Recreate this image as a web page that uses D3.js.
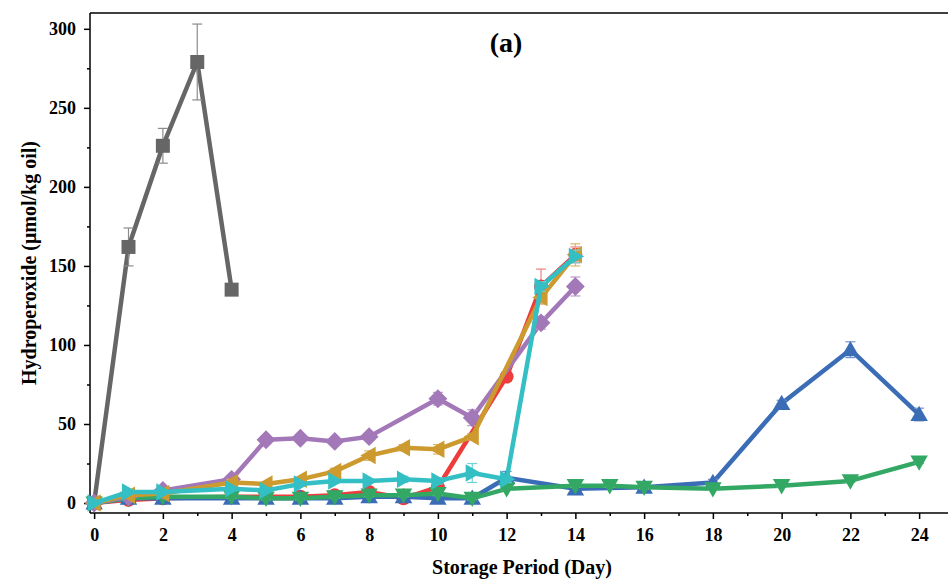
<!DOCTYPE html>
<html>
<head>
<meta charset="utf-8">
<script src="https://cdn.jsdelivr.net/npm/d3@7"></script>
<style>
  body { margin: 0; background: #fff; }
  svg text { font-family: "Liberation Serif", "Times New Roman", serif; font-weight: bold; }
</style>
</head>
<body>
<div id="chart"></div>
<script>
// day values per series, with standard deviation
var grayDays = [0, 1, 2, 3, 4];
var grayVals = [0, 162, 226, 279, 135];
var grayErr = [1, 12, 11, 24, 2];

var redDays = [0, 1, 2, 4, 5, 6, 7, 8, 9, 10, 12, 13, 14];
var redVals = [0, 2, 3, 4, 4, 4, 5, 7, 3, 10, 80, 137, 157];
var redErr = [1, 1, 1, 1, 1, 1, 1, 1, 1, 2, 3, 11, 5];

var blueDays = [0, 1, 2, 4, 5, 6, 7, 8, 9, 10, 11, 12, 14, 16, 18, 20, 22, 24];
var blueVals = [0, 3, 3, 3, 3, 3, 3, 4, 4, 3, 3, 16, 9, 10, 13, 63, 97, 56];
var blueErr = [1, 1, 1, 1, 1, 1, 1, 1, 1, 1, 1, 4, 2, 2, 2, 2, 5, 4];

var greenDays = [0, 1, 2, 4, 5, 6, 7, 8, 9, 10, 11, 12, 14, 15, 16, 18, 20, 22, 24];
var greenVals = [0, 3, 4, 4, 3, 3, 4, 5, 5, 6, 3, 9, 11, 11, 10, 9, 11, 14, 26];
var greenErr = [1, 1, 1, 1, 1, 1, 1, 1, 1, 1, 1, 1, 1, 1, 1, 1, 1, 1, 1];

var purpleDays = [0, 1, 2, 4, 5, 6, 7, 8, 10, 11, 13, 14];
var purpleVals = [0, 4, 8, 15, 40, 41, 39, 42, 66, 54, 114, 137];
var purpleErr = [1, 1, 1, 2, 2, 2, 2, 2, 4, 5, 4, 6];

var goldDays = [0, 1, 2, 4, 5, 6, 7, 8, 9, 10, 11, 13, 14];
var goldVals = [0, 5, 6, 13, 12, 15, 20, 30, 35, 34, 42, 130, 157];
var goldErr = [1, 1, 1, 2, 1, 1, 2, 3, 2, 3, 2, 4, 7];

var cyanDays = [0, 1, 2, 4, 5, 6, 7, 8, 9, 10, 11, 12, 13, 14];
var cyanVals = [0, 7, 7, 9, 8, 12, 14, 14, 15, 14, 19, 15, 137, 156];
var cyanErr = [1, 1, 1, 1, 1, 1, 1, 1, 2, 2, 6, 2, 3, 4];

var xTicks = [0, 2, 4, 6, 8, 10, 12, 14, 16, 18, 20, 22, 24];
var yTicks = [0, 50, 100, 150, 200, 250, 300];

var series = [
  {days: grayDays, vals: grayVals, err: grayErr, color: "#666666", errColor: "#8c8c8c", sym: "square"},
  {days: redDays, vals: redVals, err: redErr, color: "#ee3b3b", errColor: "#f08080", sym: "circle"},
  {days: blueDays, vals: blueVals, err: blueErr, color: "#3b6db7", errColor: "#6f93cc", sym: "up"},
  {days: greenDays, vals: greenVals, err: greenErr, color: "#33a865", errColor: "#6cc290", sym: "down"},
  {days: purpleDays, vals: purpleVals, err: purpleErr, color: "#a378b8", errColor: "#bd9bcc", sym: "diamond"},
  {days: goldDays, vals: goldVals, err: goldErr, color: "#cc9a2e", errColor: "#dbb569", sym: "left"},
  {days: cyanDays, vals: cyanVals, err: cyanErr, color: "#33bfc4", errColor: "#6fd2d5", sym: "right"}
];

var width = 948, height = 579;
var margin = {top: 13, right: 0, bottom: 66, left: 90};
var svg = d3.select("#chart").append("svg").attr("width", width).attr("height", height);

var x = d3.scaleLinear().domain([-0.12, 24.84]).range([margin.left, width - margin.right]);
var y = d3.scaleLinear().domain([-6.3, 310]).range([height - margin.bottom, margin.top]);

// frame
svg.append("line").attr("x1", margin.left).attr("x2", width).attr("y1", margin.top).attr("y2", margin.top)
  .attr("stroke", "#000").attr("stroke-width", 1.5);

// y axis
var yAxis = svg.append("g").attr("transform", "translate(" + margin.left + ",0)")
  .call(d3.axisLeft(y).tickValues(yTicks).tickSize(6).tickPadding(8).tickFormat(d3.format("d")));
yAxis.append("g").call(d3.axisLeft(y).tickValues([25, 75, 125, 175, 225, 275]).tickSize(3).tickFormat(""));
// x axis
var xAxis = svg.append("g").attr("transform", "translate(0," + (height - margin.bottom) + ")")
  .call(d3.axisBottom(x).tickValues(xTicks).tickSize(6).tickPadding(9).tickFormat(d3.format("d")));
xAxis.append("g").call(d3.axisBottom(x).tickValues(d3.range(1, 25, 2)).tickSize(3).tickFormat(""));

svg.selectAll(".domain").attr("stroke", "#000").attr("stroke-width", 1.5);
svg.selectAll(".tick line").attr("stroke", "#000").attr("stroke-width", 1.5);
svg.selectAll(".tick text").attr("font-size", 18).attr("fill", "#000");
// redraw domains full length
yAxis.select(".domain").attr("d", "M0," + margin.top + "V" + (height - margin.bottom));
xAxis.select(".domain").attr("d", "M" + margin.left + ",0H" + width);
yAxis.selectAll("g g .domain").remove();
xAxis.selectAll("g g .domain").remove();

// titles
svg.append("text").attr("x", 522).attr("y", 574).attr("text-anchor", "middle").attr("font-size", 20)
  .text("Storage Period (Day)");
svg.append("text").attr("transform", "translate(36,263) rotate(-90)").attr("text-anchor", "middle")
  .attr("font-size", 20).text("Hydroperoxide (μmol/kg oil)");
svg.append("text").attr("x", 506).attr("y", 52).attr("text-anchor", "middle").attr("font-size", 28)
  .text("(a)");

var line = d3.line().x(function (d) { return x(d.day); }).y(function (d) { return y(d.val); });

function symPath(sym, s) {
  if (sym === "square") return "M" + (-s) + "," + (-s) + "H" + s + "V" + s + "H" + (-s) + "Z";
  if (sym === "circle") return d3.symbol().type(d3.symbolCircle).size(Math.PI * s * s)();
  if (sym === "diamond") return "M0," + (-s * 1.35) + "L" + (s * 1.35) + ",0L0," + (s * 1.35) + "L" + (-s * 1.35) + ",0Z";
  var t = s * 1.25;
  if (sym === "up") return "M0," + (-t) + "L" + t + "," + (t * 0.75) + "L" + (-t) + "," + (t * 0.75) + "Z";
  if (sym === "down") return "M0," + t + "L" + t + "," + (-t * 0.75) + "L" + (-t) + "," + (-t * 0.75) + "Z";
  if (sym === "left") return "M" + (-t) + ",0L" + (t * 0.75) + "," + (-t) + "L" + (t * 0.75) + "," + t + "Z";
  if (sym === "right") return "M" + t + ",0L" + (-t * 0.75) + "," + (-t) + "L" + (-t * 0.75) + "," + t + "Z";
}

series.forEach(function (s) {
  var data = s.days.map(function (d, i) { return {day: d, val: s.vals[i], err: s.err[i]}; });
  var g = svg.append("g");
  g.append("path").datum(data).attr("d", line).attr("fill", "none")
    .attr("stroke", s.color).attr("stroke-width", 4.5).attr("stroke-linejoin", "round");
  var eb = g.selectAll(".eb").data(data).enter().append("g")
    .attr("stroke", s.errColor).attr("stroke-width", 1.2);
  eb.append("line").attr("x1", function (d) { return x(d.day); }).attr("x2", function (d) { return x(d.day); })
    .attr("y1", function (d) { return y(d.val - d.err); }).attr("y2", function (d) { return y(d.val + d.err); });
  eb.append("line").attr("x1", function (d) { return x(d.day) - 5; }).attr("x2", function (d) { return x(d.day) + 5; })
    .attr("y1", function (d) { return y(d.val + d.err); }).attr("y2", function (d) { return y(d.val + d.err); });
  eb.append("line").attr("x1", function (d) { return x(d.day) - 5; }).attr("x2", function (d) { return x(d.day) + 5; })
    .attr("y1", function (d) { return y(d.val - d.err); }).attr("y2", function (d) { return y(d.val - d.err); });
  g.selectAll(".mk").data(data).enter().append("path")
    .attr("transform", function (d) { return "translate(" + x(d.day) + "," + y(d.val) + ")"; })
    .attr("d", symPath(s.sym, 7)).attr("fill", s.color);
});
</script>
</body>
</html>
